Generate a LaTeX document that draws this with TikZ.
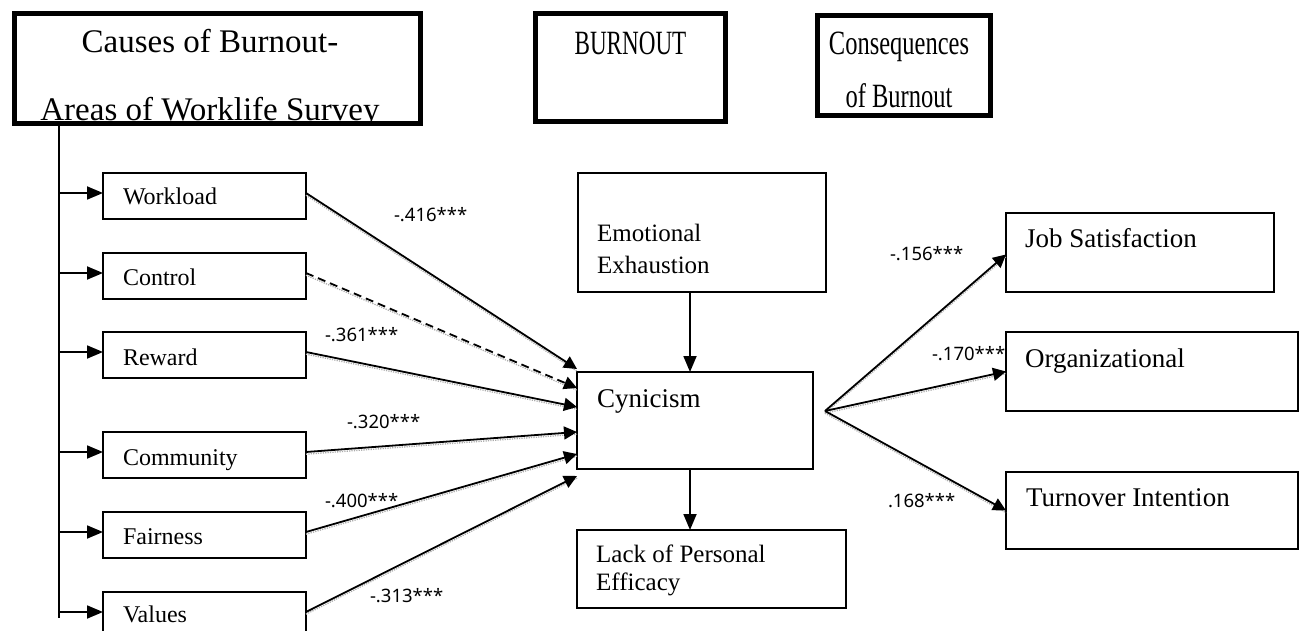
\documentclass[tikz,border=0pt]{standalone}
\usepackage{graphicx}
\usepackage{fontspec}
\setmainfont{Liberation Serif}
\newfontfamily\lblfont{Noto Sans}
\usetikzlibrary{arrows.meta,calc}
\begin{document}
\begin{tikzpicture}[x=1pt,y=-1pt,
  hbox/.style={draw, line width=5pt, inner sep=0, outer sep=0, anchor=north west},
  sbox/.style={draw, line width=1.8pt, inner sep=0, outer sep=0, anchor=north west},
  txt/.style={inner sep=0, outer sep=0, anchor=base west, font=\fontsize{24}{28}\selectfont},
  bigtxt/.style={inner sep=0, outer sep=0, anchor=base west, font=\fontsize{27}{30}\selectfont},
  lbl/.style={inner sep=0, outer sep=0, anchor=west, font=\lblfont\fontsize{18.5}{20}\selectfont},
  arr/.style={line width=1.8pt, -{Triangle[length=16pt,width=13pt]}},
  conn/.style={line width=1.8pt, -{Triangle[length=13pt,width=13pt]},
    preaction={draw=gray!65, line width=1.3pt, dash pattern=on 1.2pt off 1.2pt, -,
      transform canvas={yshift=-2.2pt}}},
]
\useasboundingbox (0,0) rectangle (1299,631);
\fill[white] (0,0) rectangle (1299,631);

% header boxes
\node[hbox, minimum width=406, minimum height=110] (causes) at (14.5,14) {};
\node[hbox, minimum width=190, minimum height=108] (burn) at (535.5,14) {};
\node[hbox, minimum width=173, minimum height=100] (cons) at (817.5,15.5) {};

\begin{scope}
  \clip ($(causes.north west)+(0,2.5)$) rectangle ($(causes.south east)+(0,-2.5)$);
  \node[inner sep=0, anchor=base, font=\fontsize{33}{68}\selectfont] (causestxt) at (210,53)
    {\begin{tabular}[t]{@{}c@{}}Causes of Burnout-\\Areas of Worklife Survey\end{tabular}};
\end{scope}
\node[inner sep=0, anchor=base, font=\fontsize{34}{40}\selectfont] (burntxt) at (630.5,55)
  {\scalebox{0.68}[1]{BURNOUT}};
\node[inner sep=0, anchor=base, font=\fontsize{34}{53}\selectfont] (constxt) at (899,55)
  {\begin{tabular}[t]{@{}c@{}}\scalebox{0.72}[1]{Consequences}\\\scalebox{0.72}[1]{of Burnout}\end{tabular}};

% left column
\node[sbox, minimum width=203, minimum height=46] (wl) at (103,173) {};
\node[sbox, minimum width=203, minimum height=46] (ctl) at (103,253) {};
\node[sbox, minimum width=203, minimum height=46] (rew) at (103,332) {};
\node[sbox, minimum width=203, minimum height=46] (com) at (103,432) {};
\node[sbox, minimum width=203, minimum height=46] (fair) at (103,512) {};
\node[sbox, minimum width=203, minimum height=46] (val) at (103,592) {};
\node[txt] (wlt) at ($(wl.north west)+(20,32)$) {Workload};
\node[txt] (ctlt) at ($(ctl.north west)+(20,32)$) {Control};
\node[txt] (rewt) at ($(rew.north west)+(20,33)$) {Reward};
\node[txt] (comt) at ($(com.north west)+(20,33)$) {Community};
\node[txt] (fairt) at ($(fair.north west)+(20,32)$) {Fairness};
\node[txt] (valt) at ($(val.north west)+(20,30)$) {Values};

\coordinate (sp0) at (59,124);
\coordinate (sp1) at (59,618);
\draw[line width=1.8pt] (sp0) -- (sp1);
\foreach \n in {wl,ctl,rew,com,fair,val} {
  \coordinate (a\n) at ($(\n.west)+(0,-3)$);
  \draw[arr] (sp0 |- a\n) -- (a\n);
}

% middle column
\node[sbox, minimum width=248, minimum height=119] (emo) at (578,173) {};
\node[sbox, minimum width=236, minimum height=97] (cyn) at (577,372) {};
\node[sbox, minimum width=269, minimum height=78] (lack) at (577,530) {};
\node[inner sep=0, anchor=base west, font=\fontsize{25}{32}\selectfont] (emot) at (597,242)
  {\begin{tabular}[t]{@{}l@{}}Emotional\\Exhaustion\end{tabular}};
\node[bigtxt] (cynt) at (597,407) {Cynicism};
\node[inner sep=0, anchor=base west, font=\fontsize{25}{28}\selectfont] (lackt) at (596,562)
  {\begin{tabular}[t]{@{}l@{}}Lack of Personal\\Efficacy\end{tabular}};

\coordinate (ea) at (690,0);
\draw[arr] (emo.south -| ea) -- (cyn.north -| ea);
\draw[arr] (cyn.south -| ea) -- (lack.north -| ea);

% right column
\node[sbox, minimum width=268, minimum height=79] (job) at (1006,213) {};
\node[sbox, minimum width=292, minimum height=79] (org) at (1006,332) {};
\node[sbox, minimum width=292, minimum height=77] (turn) at (1006,472) {};
\node[bigtxt] (jobt) at ($(job.north west)+(19,35)$) {Job Satisfaction};
\node[bigtxt] (orgt) at ($(org.north west)+(19,35)$) {Organizational};
\node[bigtxt] (turnt) at ($(turn.north west)+(20,34)$) {Turnover Intention};

% converging connectors
\foreach \n/\dy in {wl/-3,ctl/16,rew/35,com/60,fair/82,val/104} {
  \coordinate (s\n) at ($(\n.east)+(0,-3)$);
  \coordinate (t\n) at ($(cyn.north west)+(0,\dy)$);
}
\draw[conn] (swl) -- (twl);
\draw[conn, dash pattern=on 8pt off 5pt] (sctl) -- (tctl);
\draw[conn] (srew) -- (trew);
\draw[conn] (scom) -- (tcom);
\draw[conn] (sfair) -- (tfair);
\draw[conn] (sval) -- (tval);

% diverging connectors
\coordinate (apex) at ($(cyn.east)+(12,-9.5)$);
\draw[conn] (apex) -- ($(job.west)+(0,2)$);
\draw[conn] (apex) -- (org.west);
\draw[conn] (apex) -- (turn.west);

% coefficient labels
\node[lbl] (l1) at (394,215) {-.416***};
\node[lbl] (l2) at (325,335) {-.361***};
\node[lbl] (l3) at (347,422) {-.320***};
\node[lbl] (l4) at (325,501) {-.400***};
\node[lbl] (l5) at (370,596) {-.313***};
\node[lbl] (l6) at (890,254) {-.156***};
\node[lbl] (l7) at (932,354) {-.170***};
\node[lbl] (l8) at (888,501) {.168***};
\end{tikzpicture}
\end{document}
